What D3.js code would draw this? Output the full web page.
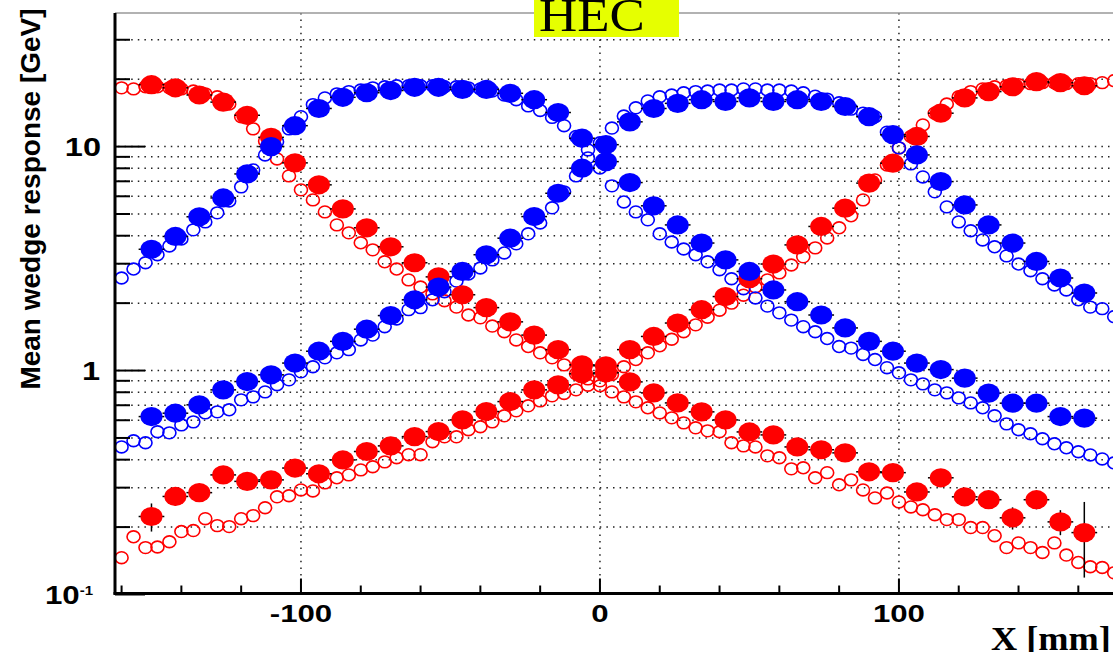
<!DOCTYPE html>
<html>
<head>
<meta charset="utf-8">
<script src="https://cdn.jsdelivr.net/npm/d3@7"></script>
<style>
  body { margin: 0; background: #fff; }
  svg { display: block; }
</style>
</head>
<body>
<div id="chart"></div>
<script>
// x positions [mm] of the measured (filled) and simulated (open) points
const filledX = [-150, -142, -134, -126, -118, -110, -102, -94, -86, -78, -70, -62, -54, -46, -38, -30, -22, -14, -6, 2,
    10, 18, 26, 34, 42, 50, 58, 66, 74, 82, 90, 98, 106, 114, 122, 130, 138, 146, 154, 162];
const openX = [-160, -156, -152, -148, -144, -140, -136, -132, -128, -124, -120, -116, -112, -108, -104, -100, -96, -92, -88, -84,
    -80, -76, -72, -68, -64, -60, -56, -52, -48, -44, -40, -36, -32, -28, -24, -20, -16, -12, -8, -4,
    0, 4, 8, 12, 16, 20, 24, 28, 32, 36, 40, 44, 48, 52, 56, 60, 64, 68, 72, 76,
    80, 84, 88, 92, 96, 100, 104, 108, 112, 116, 120, 124, 128, 132, 136, 140, 144, 148, 152, 156,
    160, 164, 168, 172];

// measured mean wedge response [GeV]
const redFallData = [18.9, 18.3, 17.0, 15.8, 13.8, 11.0, 8.46, 6.75, 5.27, 4.34, 3.57, 3.03, 2.62, 2.18, 1.91, 1.65, 1.44, 1.24, 1.06, 0.977,
    0.890, 0.795, 0.717, 0.654, 0.602, 0.532, 0.516, 0.456, 0.443, 0.429, 0.353, 0.350, 0.287, 0.332, 0.273, 0.265, 0.220, 0.265, 0.211, 0.189];
const redFallErr = [0.3, 0.3, 0.28, 0.26, 0.24, 0.2, 0.16, 0.13, 0.1, 0.08, 0.07, 0.06, 0.05, 0.045, 0.04, 0.035, 0.03, 0.028, 0.025, 0.024,
    0.022, 0.02, 0.02, 0.02, 0.02, 0.02, 0.02, 0.02, 0.02, 0.02, 0.025, 0.025, 0.025, 0.03, 0.022, 0.022, 0.025, 0.025, 0.027, 0.07];
const redRiseData = [0.223, 0.274, 0.285, 0.342, 0.320, 0.325, 0.367, 0.346, 0.399, 0.435, 0.461, 0.507, 0.534, 0.602, 0.656, 0.727, 0.820, 0.863, 0.967, 1.05,
    1.24, 1.42, 1.63, 1.87, 2.14, 2.57, 2.99, 3.64, 4.40, 5.31, 6.87, 8.43, 11.1, 14.1, 16.5, 17.6, 18.5, 19.5, 19.3, 18.7];
const redRiseErr = [0.032, 0.025, 0.025, 0.025, 0.025, 0.025, 0.025, 0.025, 0.02, 0.02, 0.02, 0.02, 0.02, 0.02, 0.02, 0.02, 0.022, 0.022, 0.024, 0.025,
    0.028, 0.03, 0.035, 0.04, 0.045, 0.05, 0.06, 0.07, 0.08, 0.1, 0.13, 0.16, 0.2, 0.24, 0.26, 0.28, 0.3, 0.3, 0.3, 0.3];
const blueLeftData = [3.48, 3.97, 4.86, 5.90, 7.55, 10.0, 12.4, 14.8, 16.6, 17.4, 17.8, 18.4, 18.4, 18.0, 18.0, 17.3, 16.2, 14.2, 10.9, 8.57,
    6.91, 5.44, 4.47, 3.71, 3.12, 2.77, 2.29, 2.03, 1.77, 1.55, 1.35, 1.22, 1.08, 1.01, 0.925, 0.793, 0.715, 0.715, 0.623, 0.613];
const blueRightData = [0.623, 0.645, 0.703, 0.820, 0.893, 0.957, 1.08, 1.22, 1.35, 1.53, 1.76, 2.07, 2.36, 2.77, 3.29, 3.90, 4.87, 6.19, 8.01, 10.2,
    12.9, 14.8, 15.6, 16.2, 15.9, 16.5, 15.9, 16.2, 15.9, 15.1, 13.6, 11.3, 9.18, 6.98, 5.49, 4.47, 3.71, 3.07, 2.59, 2.22];

// simulated mean wedge response [GeV]
const redFallMC = [18.3, 18.1, 18.5, 18.5, 18.3, 18.1, 17.7, 17.2, 16.7, 15.5, 13.6, 12.0, 10.6, 8.81, 7.40, 6.41, 5.78, 5.11, 4.47, 4.12,
    3.72, 3.46, 3.06, 2.84, 2.54, 2.36, 2.20, 2.05, 1.92, 1.77, 1.72, 1.58, 1.49, 1.37, 1.28, 1.20, 1.14, 1.06, 0.967, 0.918,
    0.855, 0.803, 0.763, 0.725, 0.682, 0.647, 0.615, 0.584, 0.555, 0.538, 0.533, 0.476, 0.461, 0.456, 0.416, 0.408, 0.364, 0.368, 0.332, 0.350,
    0.309, 0.325, 0.293, 0.270, 0.284, 0.259, 0.246, 0.239, 0.227, 0.216, 0.216, 0.199, 0.199, 0.183, 0.162, 0.170, 0.162, 0.154, 0.170, 0.150,
    0.139, 0.133, 0.132, 0.125];
const redRiseMC = [0.146, 0.181, 0.162, 0.163, 0.172, 0.191, 0.193, 0.218, 0.203, 0.201, 0.218, 0.225, 0.244, 0.273, 0.276, 0.293, 0.290, 0.315, 0.332, 0.342,
    0.360, 0.372, 0.391, 0.408, 0.421, 0.421, 0.481, 0.506, 0.506, 0.544, 0.561, 0.590, 0.628, 0.661, 0.696, 0.732, 0.771, 0.790, 0.820, 0.860,
    0.900, 0.960, 1.04, 1.12, 1.20, 1.29, 1.38, 1.49, 1.60, 1.73, 1.86, 2.00, 2.17, 2.36, 2.54, 2.73, 2.96, 3.22, 3.53, 3.91,
    4.34, 4.91, 5.78, 7.10, 8.28, 9.87, 11.1, 12.5, 14.1, 15.5, 16.7, 17.6, 18.1, 18.5, 18.7, 18.9, 19.1, 19.3, 19.3, 19.1,
    19.1, 19.1, 19.3, 19.7];
const blueLeftMC = [2.59, 2.84, 3.03, 3.29, 3.60, 3.87, 4.25, 4.61, 5.06, 5.72, 6.61, 7.87, 9.18, 10.5, 12.0, 13.6, 15.4, 16.5, 17.2, 17.6,
    17.9, 18.3, 18.5, 18.7, 18.7, 18.7, 18.7, 18.5, 18.5, 18.3, 18.1, 17.7, 17.0, 16.2, 15.2, 14.5, 13.5, 12.4, 11.1, 9.67,
    8.03, 6.68, 5.66, 5.11, 4.71, 4.08, 3.75, 3.49, 3.29, 3.06, 2.82, 2.57, 2.32, 2.11, 1.94, 1.81, 1.68, 1.57, 1.49, 1.39,
    1.28, 1.26, 1.18, 1.12, 1.03, 0.977, 0.909, 0.872, 0.820, 0.795, 0.755, 0.717, 0.682, 0.628, 0.578, 0.544, 0.522, 0.496, 0.471, 0.452,
    0.434, 0.420, 0.403, 0.387];
const blueRightMC = [0.456, 0.486, 0.476, 0.533, 0.527, 0.572, 0.590, 0.647, 0.654, 0.668, 0.740, 0.763, 0.803, 0.864, 0.909, 0.987, 1.04, 1.14, 1.20, 1.24,
    1.37, 1.44, 1.57, 1.70, 1.87, 1.91, 2.07, 2.25, 2.51, 2.70, 2.87, 3.12, 3.35, 3.68, 4.08, 4.56, 5.33, 6.28, 7.40, 8.91,
    10.4, 12.1, 13.7, 14.9, 16.0, 16.7, 17.0, 17.4, 17.6, 17.7, 17.9, 17.9, 18.1, 18.1, 17.9, 17.9, 17.7, 17.4, 16.8, 16.3,
    15.7, 14.7, 14.1, 13.6, 11.6, 9.87, 8.37, 7.32, 6.28, 5.38, 4.61, 4.21, 3.83, 3.57, 3.25, 2.99, 2.79, 2.57, 2.41, 2.29,
    2.07, 1.92, 1.89, 1.74];

// axis ticks
const xMajor = [-100, 0, 100];
const xMinor = [-160, -140, -120, -80, -60, -40, -20, 20, 40, 60, 80, 120, 140, 160];
const yMajor = [0.1, 1, 10];
const yMinor = [0.2, 0.3, 0.4, 0.5, 0.6, 0.7, 0.8, 0.9, 2, 3, 4, 5, 6, 7, 8, 9, 20, 30];

const W = 1113, H = 652;
const frame = {left: 115, top: 13, right: 1116, bottom: 594.5};

let svg = d3.select("#chart")
    .append("svg")
    .attr("width", W)
    .attr("height", H);

let x = d3.scaleLinear().domain([-162.2, 172.6]).range([frame.left, frame.right]);
let y = d3.scaleLog().domain([0.1, 39.5]).range([frame.bottom, frame.top]);

// dotted grid
let grid = svg.append("g")
    .attr("stroke", "#222")
    .attr("stroke-width", 1.5)
    .attr("stroke-dasharray", "1.5,5.1");
grid.selectAll("line.gy")
    .data(yMinor.concat([1, 10]))
    .join("line")
    .attr("x1", frame.left + 3).attr("x2", W)
    .attr("y1", d => y(d)).attr("y2", d => y(d));
grid.selectAll("line.gx")
    .data(xMajor)
    .join("line")
    .attr("x1", d => x(d)).attr("x2", d => x(d))
    .attr("y1", frame.top).attr("y2", frame.bottom - 2);

// top frame line
svg.append("line")
    .attr("x1", frame.left).attr("x2", W)
    .attr("y1", frame.top).attr("y2", frame.top)
    .attr("stroke", "#999").attr("stroke-width", 1.5);

// open circles = simulation
function drawOpen(xs, ys, color) {
    svg.append("g")
        .selectAll("ellipse")
        .data(d3.zip(xs, ys))
        .join("ellipse")
        .attr("cx", d => x(d[0]))
        .attr("cy", d => y(d[1]))
        .attr("rx", 6.5)
        .attr("ry", 5.9)
        .attr("fill", "none")
        .attr("stroke", color)
        .attr("stroke-width", 1.6);
}

// filled circles = data, with black error bars underneath
function drawFilled(xs, ys, errs, color) {
    let pts = xs.map((d, i) => ({x: d, y: ys[i], e: errs ? errs[i] : 0}));
    let g = svg.append("g");
    g.selectAll("line.ex")
        .data(pts)
        .join("line")
        .attr("x1", d => x(d.x - 4.3)).attr("x2", d => x(d.x + 4.3))
        .attr("y1", d => y(d.y)).attr("y2", d => y(d.y))
        .attr("stroke", "#000").attr("stroke-width", 1.5);
    g.selectAll("line.ey")
        .data(pts.filter(d => d.e > 0))
        .join("line")
        .attr("x1", d => x(d.x)).attr("x2", d => x(d.x))
        .attr("y1", d => y(d.y + d.e)).attr("y2", d => y(Math.max(d.y - d.e, 0.101)))
        .attr("stroke", "#000").attr("stroke-width", 1.5);
    g.selectAll("ellipse")
        .data(pts)
        .join("ellipse")
        .attr("cx", d => x(d.x))
        .attr("cy", d => y(d.y))
        .attr("rx", 11)
        .attr("ry", 9.6)
        .attr("fill", color);
}

drawOpen(openX, redFallMC, "#ff0000");
drawOpen(openX, redRiseMC, "#ff0000");
drawOpen(openX, blueLeftMC, "#0000ff");
drawOpen(openX, blueRightMC, "#0000ff");

drawFilled(filledX, redFallData, redFallErr, "#ff0000");
drawFilled(filledX, redRiseData, redRiseErr, "#ff0000");
drawFilled(filledX, blueLeftData, null, "#0000ff");
drawFilled(filledX, blueRightData, null, "#0000ff");

// axes
let axes = svg.append("g").attr("stroke", "#000");
axes.append("line")
    .attr("x1", frame.left).attr("x2", frame.left)
    .attr("y1", frame.top).attr("y2", frame.bottom)
    .attr("stroke-width", 3);
axes.append("line")
    .attr("x1", frame.left - 1.5).attr("x2", W)
    .attr("y1", frame.bottom - 1).attr("y2", frame.bottom - 1)
    .attr("stroke-width", 3);
axes.selectAll("line.ymaj")
    .data(yMajor)
    .join("line")
    .attr("x1", frame.left).attr("x2", frame.left + 30)
    .attr("y1", d => y(d)).attr("y2", d => y(d))
    .attr("stroke-width", 2);
axes.selectAll("line.ymin")
    .data(yMinor)
    .join("line")
    .attr("x1", frame.left).attr("x2", frame.left + 15)
    .attr("y1", d => y(d)).attr("y2", d => y(d))
    .attr("stroke-width", 2);
axes.selectAll("line.xmaj")
    .data(xMajor)
    .join("line")
    .attr("x1", d => x(d)).attr("x2", d => x(d))
    .attr("y1", frame.bottom - 1).attr("y2", frame.bottom - 16)
    .attr("stroke-width", 2);
axes.selectAll("line.xmin")
    .data(xMinor)
    .join("line")
    .attr("x1", d => x(d)).attr("x2", d => x(d))
    .attr("y1", frame.bottom - 1).attr("y2", frame.bottom - 9)
    .attr("stroke-width", 2);

// labels are a bit wider than the plain font, like the original
function label(tx, ty, anchor, size, sx, family, weight) {
    return svg.append("text")
        .attr("transform", "translate(" + tx + "," + ty + ") scale(" + sx + ",1)")
        .attr("text-anchor", anchor)
        .attr("font-family", family)
        .attr("font-weight", weight)
        .attr("font-size", size)
        .attr("fill", "#000");
}

const sans = "'Liberation Sans', Arial, sans-serif";
const serif = "'Liberation Serif', 'Times New Roman', serif";

xMajor.forEach(function(d) {
    label(x(d), 622, "middle", 24, 1.3, sans, "bold").text(d);
});

label(101, y(10) + 9, "end", 25, 1.3, sans, "bold").text("10");
label(100, y(1) + 9, "end", 25, 1.3, sans, "bold").text("1");
let tenth = label(93, y(0.1) + 9, "end", 25, 1.25, sans, "bold");
tenth.append("tspan").text("10");
tenth.append("tspan").attr("font-size", 12).attr("dy", -9).text("-1");

// y axis title
svg.append("text")
    .attr("transform", "translate(40,199) rotate(-90)")
    .attr("text-anchor", "middle")
    .attr("font-family", sans)
    .attr("font-weight", "bold")
    .attr("font-size", 28)
    .text("Mean wedge response [GeV]");

// x axis title
label(991, 650, "start", 33, 1.1, serif, "bold").text("X [mm]");

// title box
svg.append("rect")
    .attr("x", 534).attr("y", 0)
    .attr("width", 145).attr("height", 37)
    .attr("fill", "#e6ff00");
label(539, 31, "start", 46, 1.15, serif, "normal").text("HEC");
</script>
</body>
</html>
